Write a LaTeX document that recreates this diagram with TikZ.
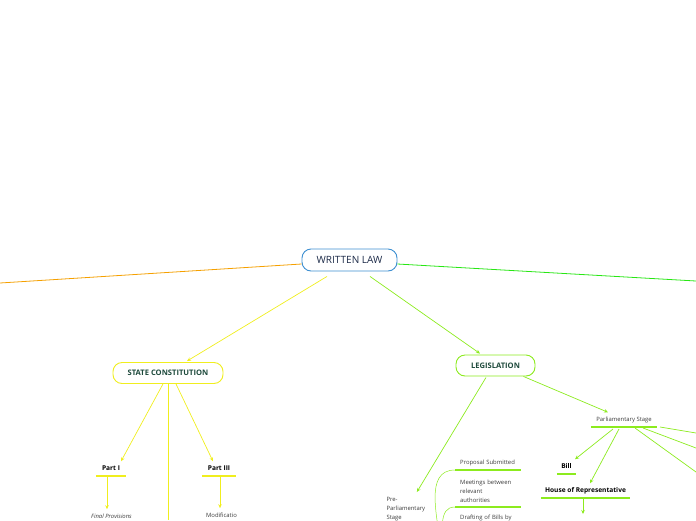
\documentclass[tikz,border=0pt]{standalone}
\usepackage{fontspec}
\setmainfont{Open Sans}
\usetikzlibrary{arrows.meta}

\definecolor{rootblue}{RGB}{61,143,209}
\definecolor{rootnavy}{RGB}{28,42,72}
\definecolor{branchorange}{RGB}{245,160,0}
\definecolor{branchgreen}{RGB}{40,230,20}
\definecolor{scyellow}{RGB}{240,238,30}
\definecolor{leglime}{RGB}{140,235,30}
\definecolor{headgreen}{RGB}{30,74,60}
\definecolor{leafgray}{RGB}{60,60,60}

\begin{document}
\begin{tikzpicture}[
    x=1pt, y=-1pt,
    rootbox/.style={draw=rootblue, line width=0.9pt, rounded corners=9pt, fill=white,
      minimum width=95pt, minimum height=22pt, text=rootnavy,
      font=\fontsize{10}{12}\selectfont},
    mainbox/.style={line width=0.9pt, rounded corners=9pt, fill=white,
      minimum height=21pt, text=headgreen, font=\bfseries\fontsize{7.6}{9}\selectfont},
    headleaf/.style={anchor=south, inner ysep=4pt, text height=4.8pt, text depth=1.5pt,
      text=black, font=\bfseries\fontsize{6.6}{8}\selectfont},
    leaf/.style={text=leafgray, font=\fontsize{5.9}{9}\selectfont},
    textleaf/.style={leaf, anchor=south west, inner xsep=5pt, inner ysep=4pt,
      text width=56pt, align=left},
    link/.style={-{Stealth[length=4pt,width=3.5pt]}, line width=0.7pt},
    thinlink/.style={line width=0.5pt},
    uline/.style={line width=1.6pt},
  ]
  \useasboundingbox (0,0) rectangle (696,520);
  \clip (0,0) rectangle (696,520);

  % root
  \node[rootbox] (root) at (349.5,260) {WRITTEN LAW};

  % branches leaving the picture
  \coordinate (westend) at (0,283);
  \coordinate (eastend) at (696,281);
  \draw[branchorange, line width=0.8pt] ([yshift=-4pt]root.west) -- (westend);
  \draw[branchgreen, line width=0.8pt] ([yshift=-4pt]root.east) -- (eastend);

  % main topics
  \node[mainbox, draw=scyellow, minimum width=110pt] (sc) at (168,373) {STATE CONSTITUTION};
  \node[mainbox, draw=leglime, minimum width=79pt] (leg) at (495.5,365.5) {LEGISLATION};
  \draw[link, scyellow] ([xshift=-22.5pt,yshift=-5pt]root.south) -- ([xshift=19pt,yshift=1pt]sc.north);
  \draw[link, leglime] ([xshift=20.5pt,yshift=-5pt]root.south) -- ([xshift=-15.5pt,yshift=1pt]leg.north);

  % state constitution
  \node[headleaf, minimum width=30pt] (part1) at (111,476) {Part I};
  \node[headleaf, minimum width=34pt] (part3) at (219,476) {Part III};
  \draw[uline, scyellow] (part1.south west) -- (part1.south east);
  \draw[uline, scyellow] (part3.south west) -- (part3.south east);
  \coordinate (scdown) at (168,520);
  \draw[link, scyellow] ([xshift=-5pt]sc.south) -- ([xshift=10pt]part1.north);
  \draw[link, scyellow] ([xshift=8pt]sc.south) -- ([xshift=-6pt]part3.north);
  \draw[scyellow, line width=0.7pt] (sc.south) -- (scdown);

  \node[leaf, font=\itshape\fontsize{5.9}{9}\selectfont] (finalprov) at (111.5,516) {Final Provisions};
  \node[leaf] (modif) at (221.5,515) {Modificatio};
  \draw[link, scyellow] ([xshift=-4pt]part1.south) -- ([xshift=-4.5pt,yshift=1pt]finalprov.north);
  \draw[link, scyellow] ([xshift=1pt]part3.south) -- ([xshift=-1.5pt,yshift=1pt]modif.north);

  % legislation: pre-parliamentary stage
  \node[leaf, anchor=north west, align=left] (prestage) at (383,494) {Pre-\\Parliamentary\\Stage};
  \draw[link, leglime] ([xshift=-9.5pt,yshift=-1pt]leg.south) -- ([xshift=11pt,yshift=2pt]prestage.north);

  \node[textleaf] (proposal) at (455,470) {Proposal Submitted};
  \node[textleaf] (meetings) at (455,507) {Meetings between\\relevant\\authorities};
  \node[textleaf, anchor=north west] (drafting) at (455,511) {Drafting of Bills by};
  \draw[uline, leglime] (proposal.south west) -- (proposal.south east);
  \draw[uline, leglime] (meetings.south west) -- (meetings.south east);
  \coordinate (prefork) at (441,550);
  \draw[thinlink, leglime] (prefork) to[out=95, in=180] (proposal.south west);
  \draw[thinlink, leglime] (prefork) to[out=80, in=180] (meetings.south west);

  % legislation: parliamentary stage
  \node[headleaf, leaf, minimum width=66pt] (parlstage) at (624,427) {Parliamentary Stage};
  \draw[uline, leglime] (parlstage.south west) -- (parlstage.south east);
  \draw[link, leglime] ([xshift=-12pt]leg.south east) -- ([xshift=-16pt]parlstage.north);

  \node[headleaf, minimum width=19pt] (bill) at (566.5,474) {Bill};
  \node[headleaf, minimum width=89pt] (house) at (585.5,498) {House of Representative};
  \draw[uline, leglime] (bill.south west) -- (bill.south east);
  \draw[uline, leglime] (house.south west) -- (house.south east);
  \draw[link, leglime] ([xshift=-11pt,yshift=-2pt]parlstage.south) -- ([xshift=8.5pt]bill.north);
  \draw[link, leglime] ([xshift=-5pt,yshift=-2pt]parlstage.south) -- ([xshift=4.5pt]house.north);
  \coordinate (housenext) at (583,514);
  \draw[link, leglime] ([xshift=-2.5pt]house.south) -- (housenext);

  \coordinate (parlout1) at (696,433);
  \coordinate (parlout2) at (696,448);
  \coordinate (parlout3) at (696,472);
  \draw[thinlink, leglime, line width=0.7pt] ([xshift=36pt]parlstage.south) -- (parlout1);
  \draw[thinlink, leglime, line width=0.7pt] ([xshift=19pt,yshift=-1pt]parlstage.south) -- (parlout2);
  \draw[thinlink, leglime, line width=0.7pt] ([xshift=11pt,yshift=-1pt]parlstage.south) -- (parlout3);
\end{tikzpicture}
\end{document}
